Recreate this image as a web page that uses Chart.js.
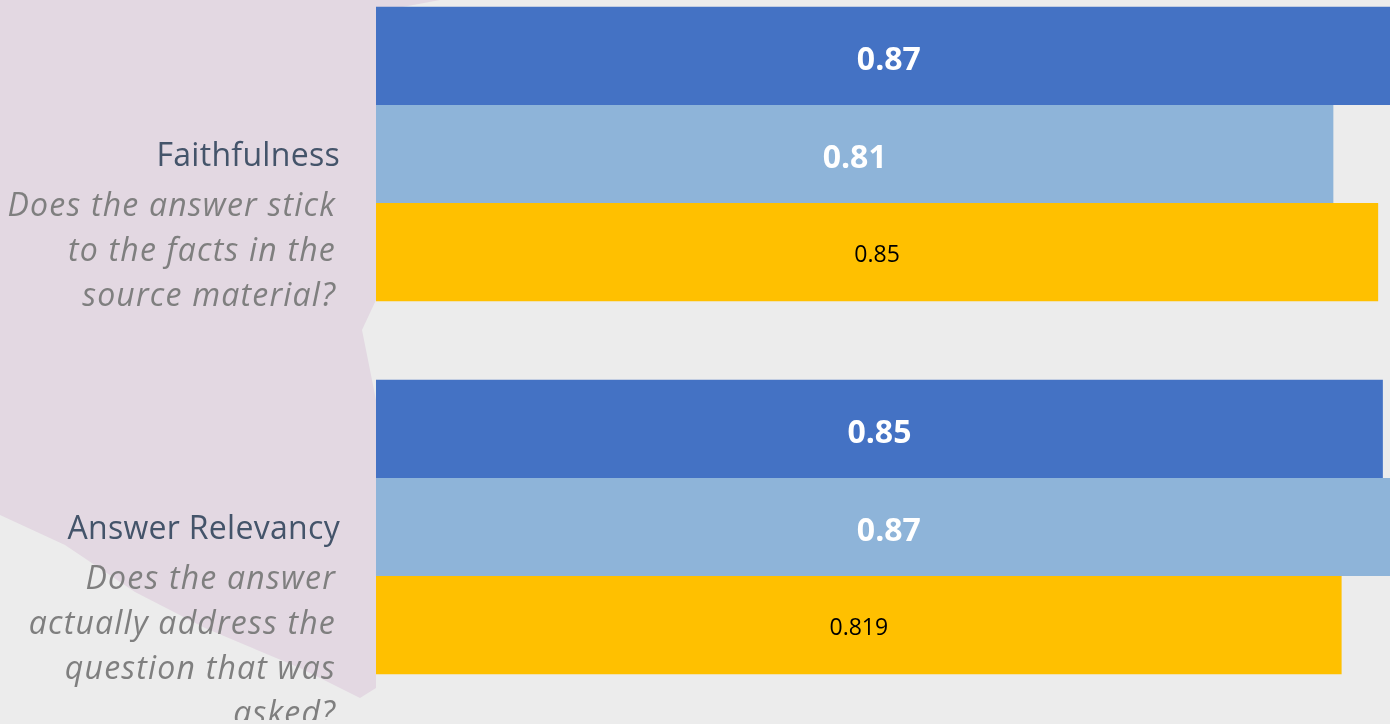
<!DOCTYPE html>
<html>
<head>
<meta charset="utf-8">
<script src="https://cdn.jsdelivr.net/npm/chart.js@4/dist/chart.umd.min.js"></script>
<style>
  html, body { margin: 0; padding: 0; width: 1390px; height: 724px; overflow: hidden; background: #ececec; }
  #brush { position: absolute; left: 0; top: 0; width: 1390px; height: 724px; background: #e3d8e2;
    clip-path: polygon(0px 0px, 440px 0px, 376px 12px, 376px 300px, 362px 330px, 370px 370px, 376px 400px, 376px 688px, 360px 698px, 300px 668px, 205px 628px, 135px 592px, 65px 545px, 0px 515px); }
  #wrap { position: absolute; left: 0; top: -40px; width: 1440px; height: 760px; }
</style>
</head>
<body>
<div id="brush"></div>
<div id="wrap"><canvas id="c"></canvas></div>
<script>
const categories = ['Faithfulness', 'Answer Relevancy'];
const descriptions = [
  ['Does the answer stick', 'to the facts in the', 'source material?'],
  ['Does the answer', 'actually address the', 'question that was', 'asked?']
];
const seriesA = [0.87, 0.854];
const seriesB = [0.812, 0.87];
const seriesC = [0.85, 0.819];

const labelPlugin = {
  id: 'barLabels',
  afterDatasetsDraw(chart) {
    const ctx = chart.ctx;
    ctx.save();
    chart.data.datasets.forEach((ds, di) => {
      const meta = chart.getDatasetMeta(di);
      meta.data.forEach((bar, i) => {
        const v = ds.data[i];
        const cx = (bar.base + bar.x) / 2;
        ctx.textAlign = 'center';
        ctx.textBaseline = 'alphabetic';
        if (di < 2) {
          ctx.font = 'bold 32px "Open Sans"';
          ctx.fillStyle = '#ffffff';
          ctx.fillText(v.toFixed(2), cx, bar.y + 14);
        } else {
          ctx.font = '23px "Open Sans"';
          ctx.fillStyle = '#000000';
          ctx.fillText(String(v), cx, bar.y + 10);
        }
      });
    });
    ctx.restore();
  }
};

const catPlugin = {
  id: 'catLabels',
  afterDraw(chart) {
    const ctx = chart.ctx;
    const ys = chart.scales.y;
    ctx.save();
    ctx.textAlign = 'right';
    ctx.textBaseline = 'alphabetic';
    categories.forEach((c, i) => {
      const cy = ys.getPixelForValue(i);
      ctx.font = '32px "Open Sans"';
      ctx.letterSpacing = '0.3px';
      ctx.fillStyle = '#44546a';
      ctx.fillText(c, 340, cy + 12);
      ctx.font = 'italic 32px "Open Sans"';
      ctx.letterSpacing = '1.2px';
      ctx.fillStyle = '#7f7f7f';
      descriptions[i].forEach((line, k) => {
        ctx.fillText(line, 336, cy + 62 + k * 45);
      });
    });
    ctx.restore();
  }
};

new Chart(document.getElementById('c'), {
  type: 'bar',
  data: {
    labels: categories,
    datasets: [
      { label: 'A', data: seriesA, backgroundColor: '#4472c4' },
      { label: 'B', data: seriesB, backgroundColor: '#8eb4d9' },
      { label: 'C', data: seriesC, backgroundColor: '#ffc000' }
    ]
  },
  options: {
    indexAxis: 'y',
    responsive: true,
    maintainAspectRatio: false,
    animation: false,
    datasets: { bar: { categoryPercentage: 0.79, barPercentage: 1.0, borderWidth: 0 } },
    layout: { padding: { left: 376, right: 2.9, top: 7.5, bottom: 6.5 } },
    scales: {
      x: { display: false, min: 0, max: 0.9 },
      y: { display: false }
    },
    plugins: { legend: { display: false }, tooltip: { enabled: false } }
  },
  plugins: [labelPlugin, catPlugin]
});
</script>
</body>
</html>
